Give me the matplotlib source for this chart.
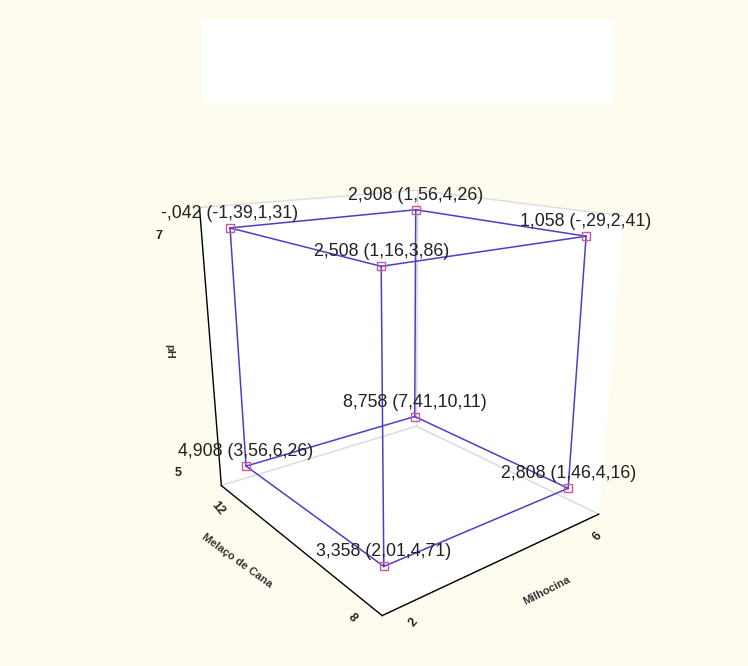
import matplotlib
matplotlib.use("Agg")
import matplotlib.pyplot as plt
from mpl_toolkits.mplot3d import proj3d

plt.rcParams["font.family"] = ["Liberation Sans", "DejaVu Sans"]

# factor levels at each vertex of the cube
milhocina = [2, 6, 2, 6, 2, 6, 2, 6]
melaco = [8, 8, 12, 12, 8, 8, 12, 12]
ph = [5, 5, 5, 5, 7, 7, 7, 7]
# predicted mean and interval at each vertex
mean = [3.358, 2.808, 4.908, 8.758, 2.508, 1.058, -0.042, 2.908]
low = [2.01, 1.46, 3.56, 7.41, 1.16, -0.29, -1.39, 1.56]
high = [4.71, 4.16, 6.26, 10.11, 3.86, 2.41, 1.31, 4.26]

milhocina_ticks = [2, 6]
melaco_ticks = [8, 12]
ph_ticks = [5, 7]

BG = "#fefcee"
LINE = "#4a3fc8"
MARK = "#d2549a"


def fmt(v, d):
    s = f"{abs(v):.{d}f}"
    if s.startswith("0"):
        s = s[1:]
    return ("-" if v < 0 else "") + s.replace(".", ",")


fig = plt.figure(figsize=(7.48, 6.66), dpi=100, facecolor=BG)
fig.patches.append(plt.Rectangle((0.27, 0.845), 0.55, 0.125, transform=fig.transFigure,
                                 facecolor="white", edgecolor="none", zorder=0))
ax = fig.add_axes([0.027, -0.06, 1.0, 1.0], projection="3d")
ax.set_facecolor("none")
ax.set_proj_type("persp", focal_length=0.22)
ax.view_init(elev=18, azim=-128)
ax.set_xlim(1.65, 6.35)
ax.set_ylim(7.6, 12.35)
ax.set_zlim(4.8, 7.15)
ax.set_box_aspect((1.04, 1.12, 1.14), zoom=0.735)

for axis in (ax.xaxis, ax.yaxis, ax.zaxis):
    axis.set_pane_color((1, 1, 1, 1))
    axis.pane.set_edgecolor("#dcdcdc")
    axis.line.set_color("black")
    axis.line.set_linewidth(1.0)
ax.set_xticks([])
ax.set_yticks([])
ax.set_zticks([])
ax.grid(False)

# cube edges: join vertices that differ in only one factor
n = len(mean)
for i in range(n):
    for j in range(i + 1, n):
        diff = (milhocina[i] != milhocina[j]) + (melaco[i] != melaco[j]) + (ph[i] != ph[j])
        if diff == 1:
            ax.plot([milhocina[i], milhocina[j]], [melaco[i], melaco[j]], [ph[i], ph[j]],
                    color=LINE, lw=1.1)
ax.plot(milhocina, melaco, ph, ls="none", marker="s", ms=6, mfc="none", mec=MARK, mew=1.0)

M = ax.get_proj()


def put(x, y, z, s, dx, dy, **kw):
    x2, y2, _ = proj3d.proj_transform(x, y, z, M)
    ax.annotate(s, (x2, y2), xytext=(dx, dy), textcoords="offset pixels", **kw)


for i in range(n):
    txt = f"{fmt(mean[i], 3)} ({fmt(low[i], 2)},{fmt(high[i], 2)})"
    put(milhocina[i], melaco[i], ph[i], txt, 0, 6,
        ha="center", va="bottom", fontsize=12.8, color="#222222")

x0, x1 = ax.get_xlim()
y0, y1 = ax.get_ylim()
z0, z1 = ax.get_zlim()
tick_kw = dict(ha="center", va="center", fontsize=9, fontweight="bold", color="#222222")
for t in ph_ticks:
    put(x0, y1, t, str(t), -42, -9, **tick_kw)
for t in melaco_ticks:
    put(x0, t, z0, str(t), -12, -16, rotation=-50, **tick_kw)
for t in milhocina_ticks:
    put(t, y0, z0, str(t), 12, -16, rotation=50, **tick_kw)

lab_kw = dict(ha="center", va="center", fontsize=8, fontweight="bold", color="#333333")
put(x0, y1, 6, "pH", -42, 0, rotation=-90, **lab_kw)
put(x0, 10.7, z0, "Melaço de Cana", -30, -38, rotation=-36, **lab_kw)
put(4.5, y0, z0, "Milhocina", 22, -42, rotation=27, **lab_kw)

fig.savefig("out.png", dpi=100, facecolor=BG)
